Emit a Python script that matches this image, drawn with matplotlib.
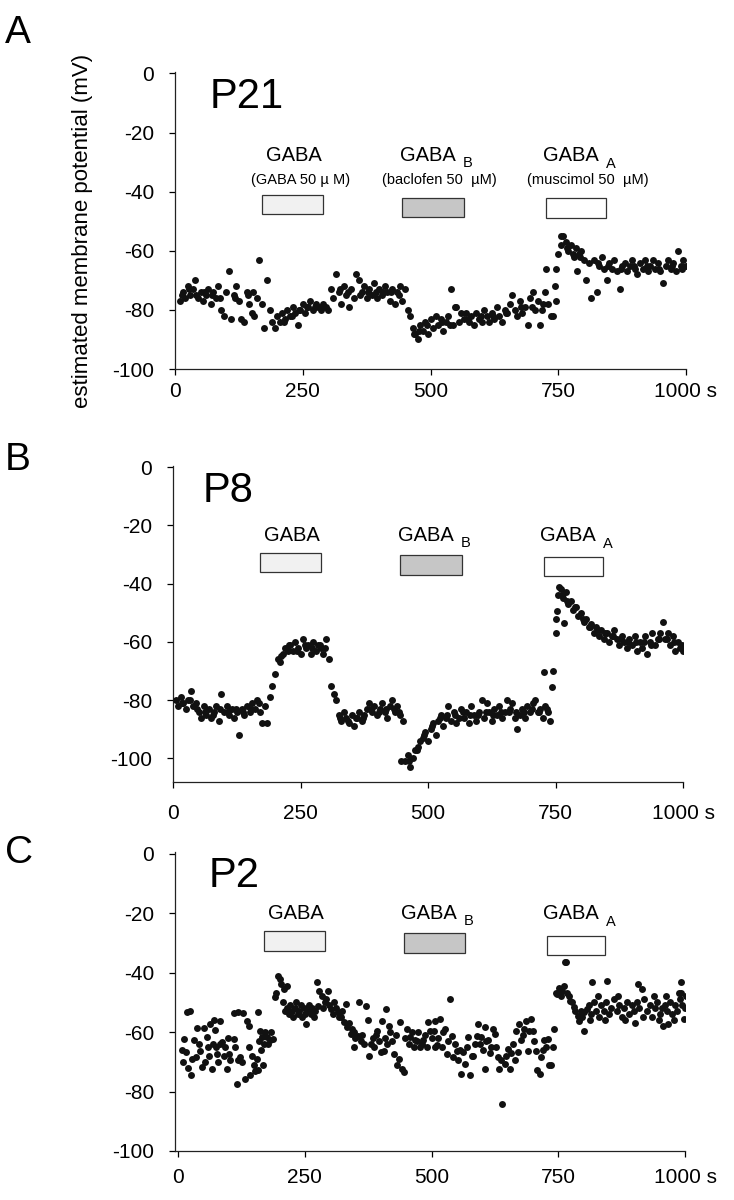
import numpy as np
import matplotlib
matplotlib.use('Agg')
import matplotlib.pyplot as plt
from matplotlib.patches import Rectangle

plt.rcParams['font.family'] = ['Liberation Sans', 'DejaVu Sans']
plt.rcParams['axes.unicode_minus'] = False

# ---- panel A (P21): membrane potential every 5 s from 10 s
a_time = np.arange(10, 1001, 5)
a_mv = [-77, -74, -76, -72, -75, -73, -70, -76, -74, -77,
        -75, -73, -78, -74, -76, -72, -80, -82, -74, -67,
        -83, -75, -72, -77, -83, -84, -74, -78, -81, -82,
        -76, -63, -78, -86, -70, -80, -84, -86, -82, -84,
        -81, -83, -80, -82, -79, -81, -85, -80, -78, -81,
        -79, -77, -80, -78, -79, -80, -78, -79, -80, -73,
        -76, -68, -74, -78, -72, -75, -79, -73, -76, -68,
        -70, -74, -72, -76, -73, -75, -71, -76, -73, -75,
        -72, -74, -77, -73, -78, -74, -72, -77, -73, -80,
        -82, -86, -88, -90, -85, -87, -84, -88, -83, -86,
        -82, -85, -83, -87, -84, -82, -73, -85, -79, -84,
        -81, -83, -81, -84, -82, -85, -81, -83, -84, -80,
        -82, -84, -81, -83, -79, -82, -84, -80, -81, -78,
        -75, -80, -82, -77, -81, -79, -85, -76, -74, -80,
        -77, -85, -78, -74, -78, -82, -82, -77, -61, -58,
        -55, -57, -60, -58, -62, -59, -61, -60, -63, -70,
        -64, -76, -63, -74, -65, -62, -66, -70, -64, -66,
        -63, -67, -73, -65, -64, -67, -65, -63, -66, -68,
        -64, -66, -63, -67, -65, -63, -66, -64, -67, -71,
        -65, -63, -66, -64, -67, -60, -65, -63, -65]
# extra samples between the 5 s grid
a_extra_t = [13, 28, 42, 57, 73, 88, 118, 143, 153, 213, 228, 243, 258, 273, 288,
             322, 338, 363, 378, 393, 408, 423, 438, 468, 478, 493, 523, 538, 548,
             573, 598, 623, 648, 678, 698, 718, 727, 743, 745, 756, 768, 778, 786,
             793, 828, 848, 873, 898, 923, 948, 973, 993]
a_extra_mv = [-75, -73, -75, -74, -75, -76, -76, -75, -74, -84, -82, -80, -79, -79, -79,
              -73, -74, -75, -74, -74, -74, -74, -75, -88, -87, -85, -84, -85, -79,
              -83, -82, -82, -81, -79, -79, -80, -66, -72, -66, -55, -59, -61, -67,
              -62, -64, -65, -66, -65, -65, -66, -65, -66]

# ---- panel B (P8): every 5 s from 5 s
b_time = np.arange(5, 1001, 5)
b_mv = [-80, -82, -79, -81, -83, -80, -77, -82, -81, -84,
        -86, -82, -85, -83, -86, -84, -82, -87, -78, -84,
        -82, -85, -83, -86, -84, -92, -83, -85, -82, -84,
        -81, -83, -80, -84, -88, -82, -88, -79, -75, -71,
        -66, -67, -64, -62, -63, -61, -63, -60, -62, -64,
        -59, -62, -61, -64, -60, -63, -61, -62, -64, -59,
        -66, -75, -78, -80, -85, -87, -84, -86, -88, -85,
        -89, -86, -84, -87, -85, -83, -81, -84, -82, -85,
        -83, -81, -84, -86, -82, -80, -84, -82, -85, -87,
        -101, -99, -103, -100, -97, -96, -94, -93, -91, -94,
        -90, -88, -92, -87, -85, -89, -86, -82, -87, -84,
        -88, -86, -83, -86, -84, -88, -82, -85, -87, -84,
        -80, -86, -81, -84, -87, -83, -85, -82, -86, -84,
        -80, -83, -81, -86, -90, -85, -83, -86, -82, -84,
        -81, -80, -84, -83, -86, -82, -84, -87, -70, -57,
        -44, -42, -45, -43, -47, -46, -49, -48, -51, -50,
        -53, -52, -55, -54, -57, -55, -58, -56, -59, -57,
        -60, -58, -56, -59, -61, -58, -60, -62, -59, -61,
        -58, -63, -60, -62, -58, -64, -60, -57, -61, -59,
        -57, -53, -59, -57, -61, -58, -63, -60, -62, -63]
b_extra_t = [18, 33, 48, 63, 78, 93, 108, 123, 138, 153, 168, 212, 228, 243, 258,
             273, 288, 298, 328, 343, 358, 373, 388, 403, 418, 433, 443, 448, 463,
             478, 493, 508, 523, 538, 553, 568, 583, 598, 613, 628, 643, 658, 673,
             688, 703, 718, 728, 733, 744, 751, 753, 756, 762, 767, 773, 788, 803,
             818, 833, 848, 863, 878, 893, 908, 923, 938, 953, 968, 983, 998]
b_extra_mv = [-81, -80, -83, -84, -85, -83, -84, -83, -84, -83, -81, -65, -61, -63, -61,
              -62, -61, -62, -86, -87, -86, -86, -83, -84, -83, -83, -84, -101, -101,
              -97, -92, -89, -86, -85, -85, -84, -85, -85, -84, -85, -84, -84, -84,
              -84, -83, -84, -70.5, -83, -75.6, -52.3, -49.5, -41, -44, -53.4, -46, -48, -52,
              -55, -56, -57, -58, -59, -60, -60, -60, -61, -59, -59, -60, -61]

# ---- panel C (P2): scattered samples
c_time = [8, 10, 12, 15, 18, 20, 23, 25, 28, 31, 35, 38, 41, 44, 48, 51, 54, 57, 59, 61,
          64, 66, 68, 70, 72, 74, 77, 79, 82, 83, 87, 90, 93, 96, 98, 100, 103,
          110, 110, 113, 116, 119, 119, 123, 126, 129, 132, 136, 139, 140, 142, 145,
          149, 152, 155, 158, 158, 160, 162, 163, 165, 168, 170, 172, 175, 178, 181,
          184, 188, 191, 194, 198, 201, 204, 209, 214,
          207, 211, 215, 218, 221, 224, 227, 230, 233, 236, 239, 242, 245, 248, 251,
          253, 256, 259, 262, 265, 268, 271, 274, 276, 279, 283, 286,
          289, 292, 295, 298, 302, 305, 308, 311, 315, 318, 321, 324, 328, 331, 334,
          337, 341, 344, 347, 347, 350, 354, 357, 360, 363, 367, 370, 374, 377, 380,
          384, 387, 390, 393, 396, 400, 403, 406, 408, 411, 413, 416, 419, 422, 426,
          429, 432, 436, 437, 442, 445, 448, 452, 455, 458, 462, 465, 468, 471, 474,
          478, 481, 484, 488, 491, 494, 497, 501, 504, 507, 507, 510, 513, 517, 520,
          523, 527, 530, 533, 537, 540, 543, 546, 550, 553, 556, 559, 563, 566, 569,
          572, 576, 579, 582, 585, 589, 592, 595, 598, 601, 605, 605, 608, 612, 615,
          618, 621, 625, 628, 631, 634, 638, 640, 644, 647, 651, 654, 657, 660, 664,
          667, 670, 673, 677, 680, 683, 686, 690, 693, 696, 700, 703, 706, 709, 713,
          716, 719, 722, 726, 729, 732, 735, 739, 742,
          745, 748, 751, 755, 758, 761, 763, 765, 768, 771, 774, 778, 781, 784, 788,
          791, 794, 797, 801, 801, 807,
          810, 812, 815, 816, 820, 825, 828, 830, 835, 840, 843, 845, 846, 850, 855,
          860, 865, 868, 870, 875, 880, 882, 885, 890, 895, 900, 902, 905, 908, 910,
          915, 918, 920, 925, 930, 935, 938, 940, 945, 948, 950, 955, 957, 960, 962,
          965, 967, 970, 975, 978, 980, 985, 988, 990, 993, 993, 995, 999, 1000, 1002]
c_mv = [-66, -70.1, -62.3, -66.7, -53.4, -72, -52.8, -74.5, -69, -62.8, -68.4, -58.6, -64,
        -66.2, -71.8, -58.6, -70, -61.7, -65.1, -68,
        -57.2, -72.3, -64, -55.9, -59.3, -65.1, -67.3, -70, -56.1, -63.9, -63.4, -68, -65.1,
        -72.3, -62, -67.3, -69.5,
        -53.7, -62.3, -65.1, -77.3, -53.4, -69.5, -68.4, -70, -53.7, -75.7, -56.1, -65.1,
        -58.1, -74.5, -67.9,
        -71.2, -73, -69, -53.4, -72.9, -63, -59.5, -66, -61.7, -71.2, -64, -60, -61.7,
        -64, -62.8,
        -60, -62.3, -48.3, -46.7, -41.1, -42, -43.9, -45.6, -44.4,
        -50, -53, -52, -54, -51, -53, -55, -52, -50, -54, -53, -51, -55, -52, -54,
        -57.3, -53, -51, -54, -52, -55, -53, -43, -51.1, -46.1, -48, -52,
        -50, -49, -46.1, -51, -52.2, -54, -50, -52, -53.4, -55, -55, -53, -56.7, -50.6,
        -58.4,
        -57, -60.6, -59, -60.1, -65.1, -62, -61.2, -49.8, -63, -61, -64, -51.1, -55.9,
        -68.2, -63.9,
        -62, -65, -61, -59.5, -63, -66.7, -56.1, -66.2, -62, -52.2, -64, -57.8, -60.1,
        -63, -67.3,
        -61, -71.2, -69, -56.7, -72.3, -73.4, -62, -58.9, -64, -61.7, -60, -65, -62.8,
        -63, -60,
        -65.1, -64, -62.8, -61, -65, -56.7, -59.5, -62, -59.5, -56.1, -65.1, -64.5, -62,
        -55.6, -65.1,
        -60, -58.9, -67.3, -63, -48.9, -61.2, -68.4, -64, -66.2, -69.5, -66, -74, -66.7,
        -70.6, -65,
        -61.7, -74.5, -68, -67.9, -63.9, -61.2, -57.2, -64, -61.7, -66, -72.3, -58.4,
        -63, -62.8, -67,
        -65.1, -58.9, -60.6, -65.1, -68.4, -72.3, -69.5, -84.1, -70.6, -68, -65.6, -72.3,
        -67, -63.9, -69.5,
        -59.5, -66.7, -57.2, -62.8, -61, -58.9, -56.1, -66.2, -59.5, -55.6, -59.5, -63,
        -66.2, -72.9, -74,
        -68.4, -66, -62.8, -65.1, -62.3, -71.2, -71.2, -65.1, -58.9,
        -46.7, -47.2, -45, -47.8, -46, -44.4, -36.3, -36.3, -46.7, -48, -49.4, -50, -51.7,
        -53, -54.5,
        -56.1, -52.8, -55, -53.4, -59.5, -52.2,
        -51, -56, -54, -43.3, -50, -53, -48, -55, -51, -53, -56, -50, -42.7, -54, -52,
        -49, -53, -48, -51, -55, -52, -56, -50, -54, -51, -53, -57, -50, -43.9, -52,
        -45.6, -55, -49, -53, -51, -55, -48, -52, -50, -56, -54, -52, -57.8, -51, -48,
        -53, -57.2, -50, -54, -56, -51, -53, -47, -49, -43, -46.7, -51, -55.6, -52, -48]

# ---- drug application boxes (s) and their labels
box_start = [170, 445, 727]
box_end = [290, 566, 843]
box_fill = ['#f1f1f1', '#c6c6c6', 'white']
drug_names = ['GABA', 'GABA', 'GABA']
drug_subs = ['', 'B', 'A']
drug_doses = ['(GABA 50 \u00b5 M)', '(baclofen 50  \u00b5M)', '(muscimol 50  \u00b5M)']

fig = plt.figure(figsize=(7.34, 12), dpi=100)

panels = [
    dict(rect=[175 / 734, 1 - 369 / 1200, 511 / 734, 297 / 1200], ylim=(-100, 0.5),
         xlim=(0, 1000), t=np.concatenate([a_time, a_extra_t]), v=np.concatenate([a_mv, a_extra_mv]),
         box_lo=[-47.5, -48.5, -49], box_hi=[-41, -42, -42.3], name_y=-29.6, sub_y=[0, -31.5, -31.9],
         dose_y=-37.5, doses=True, xpad=5.5, letter='A', letter_y=43, tag='P21', tag_xy=(210, 108)),
    dict(rect=[173 / 734, 1 - 781.7 / 1200, 510 / 734, 316 / 1200], ylim=(-108, 0.5),
         xlim=(0, 1000), t=np.concatenate([b_time, b_extra_t]), v=np.concatenate([b_mv, b_extra_mv]),
         box_lo=[-36.1, -37.1, -37.4], box_hi=[-29.4, -30.2, -30.7], name_y=-25.4, sub_y=[0, -27.4, -27.7],
         dose_y=None, doses=False, xpad=12, letter='B', letter_y=470, tag='P8', tag_xy=(203, 502)),
    dict(rect=[175 / 734, 1 - 1151 / 1200, 510 / 734, 298.7 / 1200], ylim=(-100, 0.5),
         xlim=(-6, 1000), t=np.array(c_time), v=np.array(c_mv),
         box_lo=[-32.7, -33.5, -34], box_hi=[-26, -26.8, -27.5], name_y=-22, sub_y=[0, -23.8, -24.3],
         dose_y=None, doses=False, xpad=8, letter='C', letter_y=863, tag='P2', tag_xy=(209, 887)),
]

for p in panels:
    ax = fig.add_axes(p['rect'])
    ax.scatter(p['t'], p['v'], s=25, color='#111111', linewidths=0, zorder=3)

    for i in range(3):
        ax.add_patch(Rectangle((box_start[i], p['box_lo'][i]), box_end[i] - box_start[i],
                               p['box_hi'][i] - p['box_lo'][i], facecolor=box_fill[i],
                               edgecolor='#333333', linewidth=0.9, zorder=2))
        if drug_subs[i]:
            ax.text((box_start[i] + box_end[i]) / 2 - 10, p['name_y'], drug_names[i],
                    ha='center', va='baseline', fontsize=14.5)
            ax.text((box_start[i] + box_end[i]) / 2 + 68, p['sub_y'][i], drug_subs[i],
                    ha='center', va='baseline', fontsize=10.5)
        else:
            ax.text((box_start[i] + box_end[i]) / 2 + 3, p['name_y'], drug_names[i],
                    ha='center', va='baseline', fontsize=14.5)
        if p['doses']:
            ax.text((box_start[i] + box_end[i]) / 2 + [15, 12, 22][i], p['dose_y'], drug_doses[i],
                    ha='center', va='baseline', fontsize=10.5)

    ax.set_xlim(*p['xlim'])
    ax.set_ylim(*p['ylim'])
    ax.set_xticks([0, 250, 500, 750, 1000])
    ax.set_xticklabels(['0', '250', '500', '750', '1000 s'])
    ax.set_yticks([0, -20, -40, -60, -80, -100])
    ax.spines['top'].set_visible(False)
    ax.spines['right'].set_visible(False)
    for s in ['left', 'bottom']:
        ax.spines[s].set_linewidth(0.9)
        ax.spines[s].set_color('#222222')
    ax.tick_params(axis='y', direction='out', length=4, width=0.9, labelsize=15, pad=11)
    ax.tick_params(axis='x', direction='out', length=4, width=0.9, labelsize=15, pad=p['xpad'])

    fig.text(5 / 734, 1 - p['letter_y'] / 1200, p['letter'], fontsize=28, va='baseline')
    fig.text(p['tag_xy'][0] / 734, 1 - p['tag_xy'][1] / 1200, p['tag'], fontsize=30, va='baseline')

fig.text(83 / 734, 1 - 231 / 1200, 'estimated membrane potential (mV)', rotation=90,
         ha='center', va='center', fontsize=16)

fig.savefig('out.png', dpi=100)
